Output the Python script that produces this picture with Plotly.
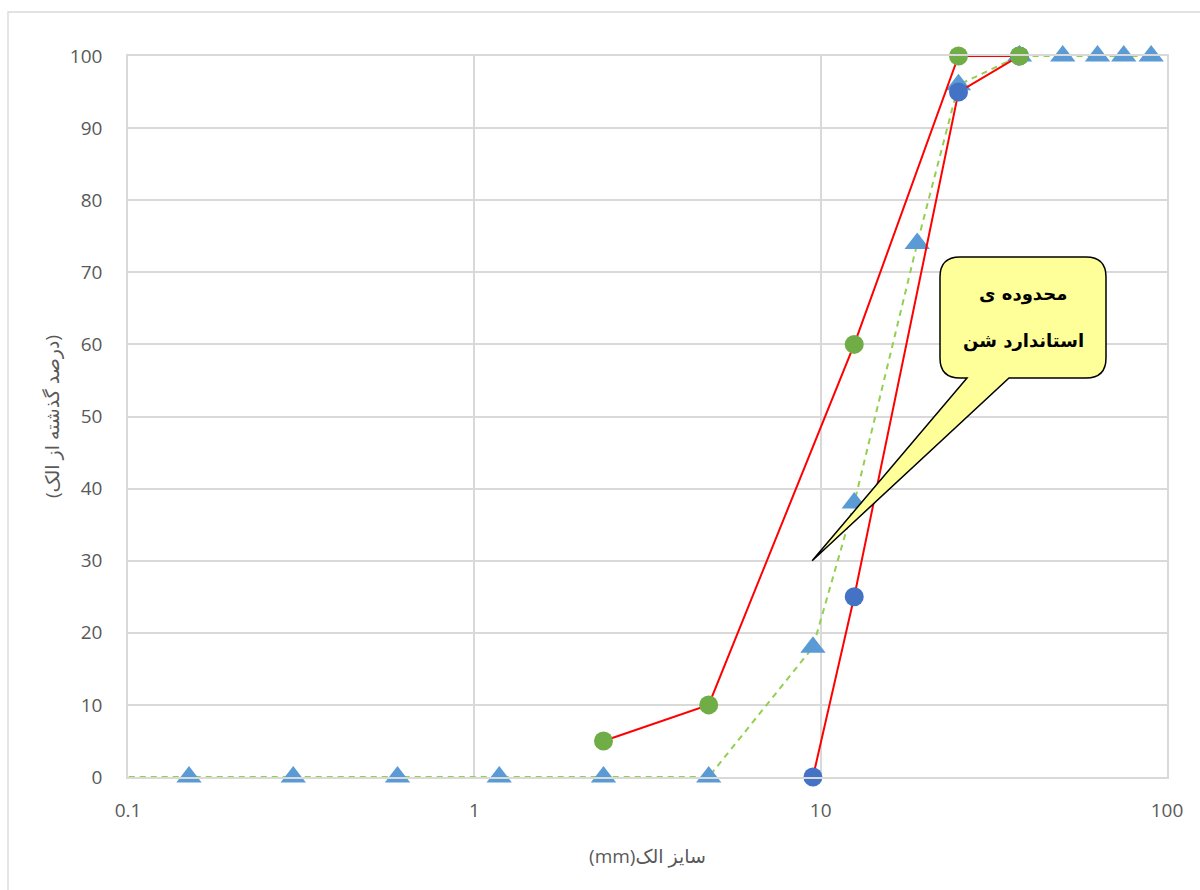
import plotly.graph_objects as go
import math

# ---------------- data ----------------
sample_size = [0.075, 0.15, 0.3, 0.6, 1.18, 2.36, 4.75, 9.5, 12.5, 19, 25, 37.5, 50, 63, 75, 90]
sample_pass = [0, 0, 0, 0, 0, 0, 0, 18, 38, 74, 96, 100, 100, 100, 100, 100]

lower_size = [9.5, 12.5, 25, 37.5]
lower_pass = [0, 25, 95, 100]

upper_size = [2.36, 4.75, 12.5, 25, 37.5]
upper_pass = [5, 10, 60, 100, 100]

x_ticks = [0.1, 1, 10, 100]
x_tick_labels = ["0.1", "1", "10", "100"]
y_ticks = list(range(0, 101, 10))

x_title = "(mm)سایز الک"
y_title = "(درصد گذشته از الک)"
callout_lines = ["محدوده ی", "استاندارد شن"]

# ---------------- layout geometry ----------------
W, H = 1200, 890
ML, MR, MT, MB = 128, 33, 56, 113
PW, PH = W - ML - MR, H - MT - MB
XR = [-1, 2]
YR = [0, 100]


def px_to_paper(px, py):
    return (px - ML) / PW, (H - MB - py) / PH


def data_to_paper(x, y):
    return (math.log10(x) - XR[0]) / (XR[1] - XR[0]), (y - YR[0]) / (YR[1] - YR[0])


fig = go.Figure()

# sample curve: line (clipped to plot, extends to left edge) + visible markers
fig.add_trace(go.Scatter(
    x=sample_size, y=sample_pass, mode="lines",
    line=dict(color="#92D050", width=2, dash="6px,5px"),
    cliponaxis=True, name="sample line"))
vis = [i for i, s in enumerate(sample_size) if s >= 10 ** XR[0]]
fig.add_trace(go.Scatter(
    x=[sample_size[i] for i in vis], y=[sample_pass[i] for i in vis], mode="markers",
    marker=dict(symbol="triangle-up", size=22, color="#5B9BD5"),
    cliponaxis=False, name="sample"))

fig.add_trace(go.Scatter(
    x=lower_size, y=lower_pass, mode="lines+markers",
    line=dict(color="#FF0000", width=2),
    marker=dict(symbol="circle", size=19, color="#4472C4"),
    cliponaxis=False, name="lower"))

fig.add_trace(go.Scatter(
    x=upper_size, y=upper_pass, mode="lines+markers",
    line=dict(color="#FF0000", width=2),
    marker=dict(symbol="circle", size=19, color="#70AD47"),
    cliponaxis=False, name="upper"))

# ---------------- callout (rounded box + pointer) ----------------
tip = data_to_paper(9.45, 30)
bx0, by0 = 940, 257     # box left/top (px)
bx1, by1 = 1106, 378    # box right/bottom (px)
r = 20
base_l, base_r = 967, 1009


def P(px, py):
    a, b = px_to_paper(px, py)
    return f"{a:.5f},{b:.5f}"


path = (
    f"M {P(bx0 + r, by0)} L {P(bx1 - r, by0)} Q {P(bx1, by0)} {P(bx1, by0 + r)} "
    f"L {P(bx1, by1 - r)} Q {P(bx1, by1)} {P(bx1 - r, by1)} "
    f"L {P(base_r, by1)} L {tip[0]:.5f},{tip[1]:.5f} L {P(base_l, by1)} "
    f"L {P(bx0 + r, by1)} Q {P(bx0, by1)} {P(bx0, by1 - r)} "
    f"L {P(bx0, by0 + r)} Q {P(bx0, by0)} {P(bx0 + r, by0)} Z"
)

shapes = [
    dict(type="rect", xref="paper", yref="paper",
         x0=px_to_paper(8, 0)[0], x1=px_to_paper(1215, 0)[0],
         y0=px_to_paper(0, 905)[1], y1=px_to_paper(0, 12)[1],
         line=dict(color="#D9D9D9", width=1.3), fillcolor="rgba(0,0,0,0)", layer="below"),
    dict(type="path", xref="paper", yref="paper", path=path,
         fillcolor="#FFFF99", line=dict(color="black", width=1.5), layer="above"),
]

annotations = []
for i, (txt, py) in enumerate(zip(callout_lines, [294, 341])):
    ax, ay = px_to_paper((bx0 + bx1) / 2, py)
    annotations.append(dict(xref="paper", yref="paper", x=ax, y=ay, text=f"<b>{txt}</b>",
                            showarrow=False, xanchor="center", yanchor="middle",
                            font=dict(family="DejaVu Sans", size=18, color="black")))

tickfont = dict(family="Open Sans", size=19, color="#595959")

fig.update_layout(
    width=W, height=H,
    margin=dict(l=ML, r=MR, t=MT, b=MB, pad=0),
    paper_bgcolor="white", plot_bgcolor="white",
    showlegend=False,
    shapes=shapes,
    annotations=annotations,
    xaxis=dict(type="log", range=XR, tickvals=x_ticks, ticktext=x_tick_labels,
               showgrid=True, gridcolor="#D9D9D9", gridwidth=1.5,
               showline=True, linecolor="#D9D9D9", linewidth=1.5, mirror=True,
               zeroline=False, ticks="", tickfont=tickfont, ticklabelstandoff=15,
               title=dict(text=x_title, standoff=28,
                          font=dict(family="Open Sans, DejaVu Sans", size=19, color="#595959"))),
    yaxis=dict(range=YR, tickvals=y_ticks,
               showgrid=True, gridcolor="#D9D9D9", gridwidth=1.5,
               showline=True, linecolor="#D9D9D9", linewidth=1.5, mirror=True,
               zeroline=False, ticks="", tickfont=tickfont, ticklabelstandoff=20,
               title=dict(text=y_title, standoff=5,
                          font=dict(family="Open Sans, DejaVu Sans", size=19, color="#595959"))),
)

fig.write_html("out.html")
